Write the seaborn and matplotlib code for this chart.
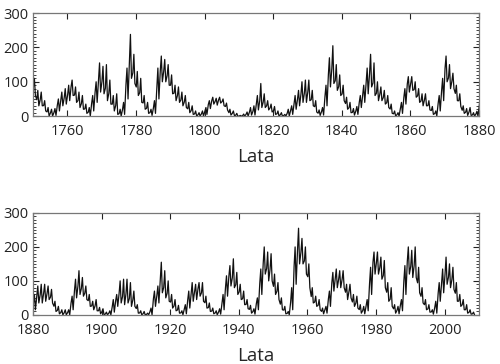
# -*- coding: utf-8 -*-
"""
Sunspot numbers 1750-2008, two stacked panels.
"""

import numpy as np
import pandas as pd
import matplotlib
matplotlib.use('Agg')
import matplotlib.pyplot as plt
from matplotlib.ticker import MultipleLocator
import seaborn as sns

#%% Data (yearly mean, monthly high and monthly low)

years = list(range(1749, 2009))

mean = [80.9, 83.4, 47.7, 47.8, 30.7, 12.2, 9.6, 10.2, 32.4, 47.6,
        54.0, 62.9, 85.9, 61.2, 45.1, 36.4, 20.9, 11.4, 37.8, 69.8,
        106.1, 100.8, 81.6, 66.5, 34.8, 30.6, 7.0, 19.8, 92.5, 154.4,
        125.9, 84.8, 68.1, 38.5, 22.8, 10.2, 24.1, 82.9, 132.0, 130.9,
        118.1, 89.9, 66.6, 60.0, 46.9, 41.0, 21.3, 16.0, 6.4, 4.1,
        6.8, 14.5, 34.0, 45.0, 43.1, 47.5, 42.2, 28.1, 10.1, 8.1,
        2.5, 0.0, 1.4, 5.0, 12.2, 13.9, 35.4, 45.8, 41.1, 30.1,
        23.9, 15.6, 6.6, 4.0, 1.8, 8.5, 16.6, 36.3, 49.6, 64.2,
        67.0, 70.9, 47.8, 27.5, 8.5, 13.2, 56.9, 121.5, 138.3, 103.2,
        85.7, 64.6, 36.7, 24.2, 10.7, 15.0, 40.1, 61.5, 98.5, 124.7,
        96.3, 66.6, 64.5, 54.1, 39.0, 20.6, 6.7, 4.3, 22.7, 54.8,
        93.8, 95.8, 77.2, 59.1, 44.0, 47.0, 30.5, 16.3, 7.3, 37.6,
        74.0, 139.0, 111.2, 101.6, 66.2, 44.7, 17.0, 11.3, 12.4, 3.4,
        6.0, 32.3, 54.3, 59.7, 63.7, 63.5, 52.2, 25.4, 13.1, 6.8,
        6.3, 7.1, 35.6, 73.0, 85.1, 78.0, 64.0, 41.8, 26.2, 26.7,
        12.1, 9.5, 2.7, 5.0, 24.4, 42.0, 63.5, 53.8, 62.0, 48.5,
        43.9, 18.6, 5.7, 3.6, 1.4, 9.6, 47.4, 57.1, 103.9, 80.6,
        63.6, 37.6, 26.1, 14.2, 5.8, 16.7, 44.3, 63.9, 69.0, 77.8,
        64.9, 35.7, 21.2, 11.1, 5.7, 8.7, 36.1, 79.7, 114.4, 109.6,
        88.8, 67.8, 47.5, 30.6, 16.3, 9.6, 33.2, 92.6, 151.6, 136.3,
        134.7, 83.9, 69.4, 31.5, 13.9, 4.4, 38.0, 141.7, 190.2, 184.8,
        159.0, 112.3, 53.9, 37.6, 27.9, 10.2, 15.1, 47.0, 93.8, 105.9,
        105.5, 104.5, 66.6, 68.9, 38.0, 34.5, 15.5, 12.6, 27.5, 92.5,
        155.4, 154.6, 140.4, 115.9, 66.6, 45.9, 17.9, 13.4, 29.4, 100.2,
        157.6, 142.6, 145.7, 94.3, 54.6, 29.9, 17.5, 8.6, 21.5, 64.3,
        93.3, 119.6, 111.0, 104.0, 63.7, 40.4, 29.8, 15.2, 7.5, 2.9]

high = [105, 110, 75, 70, 45, 25, 20, 22, 50, 70,
        80, 90, 105, 85, 70, 60, 35, 25, 60, 100,
        155, 145, 150, 105, 60, 65, 20, 40, 140, 238,
        180, 130, 110, 60, 40, 20, 45, 140, 175, 165,
        150, 120, 90, 85, 70, 60, 40, 30, 15, 10,
        15, 25, 45, 55, 52, 55, 50, 38, 20, 15,
        8, 2, 6, 12, 25, 30, 60, 95, 65, 45,
        35, 28, 15, 10, 5, 20, 30, 60, 75, 100,
        105, 105, 75, 45, 18, 25, 90, 170, 205, 150,
        120, 90, 55, 40, 22, 28, 60, 90, 140, 180,
        155, 100, 85, 75, 60, 35, 15, 10, 40, 80,
        115, 115, 100, 80, 65, 65, 45, 28, 15, 60,
        110, 175, 150, 125, 90, 65, 30, 22, 25, 10,
        14, 60, 85, 90, 90, 85, 75, 40, 25, 15,
        15, 15, 55, 105, 130, 110, 85, 60, 40, 45,
        22, 18, 8, 12, 45, 60, 100, 105, 105, 95,
        70, 30, 12, 10, 5, 20, 70, 85, 155, 130,
        100, 60, 45, 28, 12, 30, 70, 95, 90, 95,
        95, 55, 35, 20, 12, 18, 60, 115, 145, 165,
        125, 90, 70, 45, 28, 18, 50, 135, 200, 185,
        180, 120, 95, 50, 25, 10, 80, 200, 255, 225,
        200, 150, 80, 55, 45, 20, 25, 70, 125, 135,
        130, 130, 90, 90, 60, 55, 30, 25, 45, 140,
        185, 185, 170, 160, 95, 80, 30, 25, 45, 145,
        200, 190, 200, 140, 80, 45, 30, 15, 40, 95,
        135, 170, 150, 140, 95, 60, 45, 30, 15, 8]

low = [55, 60, 30, 30, 15, 0, 0, 2, 15, 30,
       35, 45, 60, 40, 25, 20, 8, 0, 15, 40,
       70, 65, 45, 35, 15, 5, 0, 5, 50, 110,
       95, 60, 40, 20, 8, 2, 8, 50, 100, 100,
       90, 65, 45, 40, 30, 25, 10, 5, 0, 0,
       0, 5, 22, 35, 32, 38, 30, 18, 3, 2,
       0, 0, 0, 0, 3, 3, 18, 25, 25, 18,
       12, 5, 0, 0, 0, 0, 5, 20, 30, 40,
       40, 45, 30, 12, 2, 3, 30, 85, 95, 75,
       60, 45, 20, 10, 3, 5, 25, 40, 65, 85,
       60, 45, 45, 35, 25, 8, 0, 0, 8, 35,
       70, 75, 55, 40, 30, 30, 18, 5, 0, 15,
       45, 100, 80, 80, 45, 28, 8, 2, 2, 0,
       0, 15, 35, 35, 40, 45, 35, 10, 3, 0,
       0, 0, 15, 50, 60, 55, 45, 25, 15, 12,
       3, 0, 0, 0, 8, 25, 35, 30, 35, 25,
       25, 5, 0, 0, 0, 0, 25, 35, 65, 50,
       40, 20, 12, 5, 0, 3, 20, 40, 45, 55,
       40, 20, 10, 3, 0, 2, 15, 55, 85, 80,
       60, 45, 30, 18, 5, 2, 15, 60, 120, 100,
       100, 60, 45, 15, 3, 0, 15, 90, 150, 150,
       120, 80, 35, 25, 15, 3, 5, 25, 70, 80,
       80, 80, 45, 50, 25, 20, 5, 3, 12, 60,
       120, 120, 105, 80, 40, 25, 5, 3, 12, 60,
       120, 110, 110, 65, 35, 15, 8, 2, 5, 40,
       65, 90, 80, 75, 40, 25, 15, 5, 2, 0]

panels = [(1750, 1880), (1880, 2010)]
y_ticks = [0, 100, 200, 300]

#%% Long table: three samples per year (mean, monthly high, monthly low)

rows = []
for yr, m, h, l in zip(years, mean, high, low):
    rows.append((yr + 0.10, m))
    rows.append((yr + 0.40, h))
    rows.append((yr + 0.70, l))
df = pd.DataFrame(rows, columns=['year', 'ssn'])

#%% Plot

sns.set_style('ticks')
plt.rcParams['font.family'] = ['Open Sans', 'DejaVu Sans']

fig = plt.figure(figsize=(5.0, 3.64), dpi=100)
boxes = [[0.066, 0.681, 0.892, 0.283], [0.066, 0.135, 0.892, 0.28]]

for (x0, x1), box in zip(panels, boxes):
    ax = fig.add_axes(box)
    sub = df[(df['year'] >= x0 - 1) & (df['year'] <= x1 + 1)]
    sns.lineplot(data=sub, x='year', y='ssn', ax=ax, color='#111111',
                 linewidth=0.9, estimator=None, sort=False)
    ax.set_xlim(x0, x1)
    ax.set_ylim(0, 300)
    ax.set_xticks(list(range(x0 + (20 - x0 % 20) % 20, x1 + 1, 20)))
    ax.set_yticks(y_ticks)
    ax.yaxis.set_minor_locator(MultipleLocator(10))
    ax.tick_params(which='both', direction='in', top=True, right=True,
                   labelsize=10.5, colors='#222222')
    ax.tick_params(axis='x', pad=6)
    ax.tick_params(axis='y', pad=3)
    ax.tick_params(which='major', length=4, width=0.8)
    ax.tick_params(which='minor', length=2.5, width=0.6)
    for s in ax.spines.values():
        s.set_color('#777777')
        s.set_linewidth(0.9)
    ax.set_xlabel('Lata', fontsize=13.5, labelpad=6)
    ax.set_ylabel('')

fig.savefig('out.png', dpi=100)
